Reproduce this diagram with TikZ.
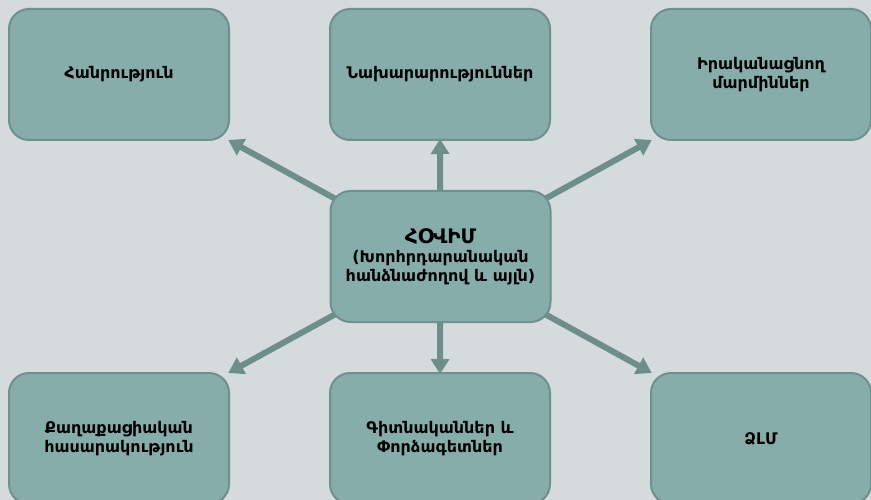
\documentclass[tikz,border=0pt]{standalone}
\usepackage{fontspec}
\setmainfont{DejaVu Sans}
\usetikzlibrary{arrows.meta}
\pgfdeclarelayer{bottom}
\pgfdeclarelayer{arrows}
\pgfsetlayers{bottom,arrows,main}
\definecolor{bgc}{HTML}{D5DADC}
\definecolor{boxf}{HTML}{87ADAB}
\definecolor{boxd}{HTML}{6F918E}
\definecolor{arrc}{HTML}{6E8E8A}
\tikzset{
  box/.style={draw=boxd, line width=2pt, fill=boxf, rounded corners=20pt,
    minimum width=220pt, minimum height=131pt, inner sep=0pt, align=center,
    font=\bfseries\fontsize{16}{19}\selectfont, text=black},
  arr/.style={draw=arrc, line width=6pt, -{Triangle[length=15pt,width=18pt]}, shorten >=-2pt},
}
\begin{document}
\begin{tikzpicture}[x=1pt,y=-1pt]
\begin{pgfonlayer}{bottom}
\fill[bgc] (0,0) rectangle (871,500);
\end{pgfonlayer}
\useasboundingbox (0,0) rectangle (871,500);
\node[box] (tl) at (119,74.5) {Հանրություն};
\node[box] (tm) at (440,74.5) {Նախարարություններ};
\node[box] (tr) at (761,74.5) {Իրականացնող\\մարմիններ};
\node[box] (c) at (440.5,256.5) {{\fontsize{20}{23}\selectfont ՀՕՎԻՄ}\\(Խորհրդարանական\\հանձնաժողով և այլն)};
\node[box] (bl) at (119,438.5) {Քաղաքացիական\\հասարակություն};
\node[box] (bm) at (440,438.5) {Գիտնականներ և\\Փորձագետներ};
\node[box] (br) at (761,438.5) {ՁԼՄ};
\begin{pgfonlayer}{arrows}
\draw[arr] (c.center) -- (tl.south east);
\draw[arr] (c.center) -- (tr.south west);
\draw[arr] (c.center) -- (bl.north east);
\draw[arr] (c.center) -- (br.north west);
\draw[arr] (c.center) -- (tm.south);
\draw[arr] (c.center) -- (bm.north);
\end{pgfonlayer}
\end{tikzpicture}
\end{document}
